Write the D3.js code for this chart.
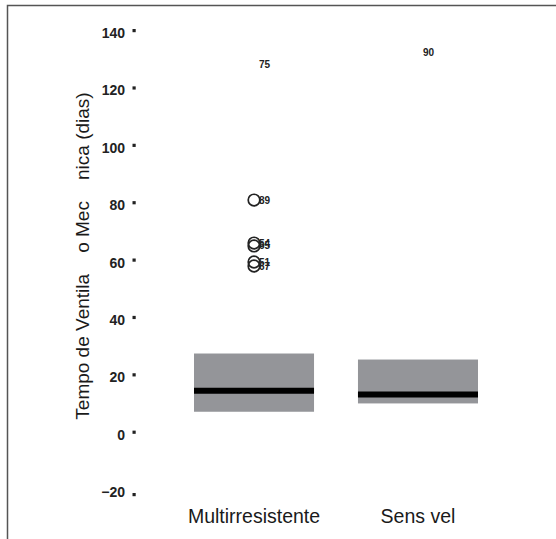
<!DOCTYPE html>
<html>
<head>
<meta charset="utf-8">
<script src="https://cdn.jsdelivr.net/npm/d3@7"></script>
<style>
html,body{margin:0;padding:0;background:#fff;}
svg{display:block;}
text{font-family:"Liberation Sans",Arial,Helvetica,sans-serif;}
</style>
</head>
<body>
<svg id="chart" width="556" height="539"></svg>
<script>
const categories = ["Multirresistente", "Sens vel"];
const q1 = [7.8, 10.7];
const medians = [15.1, 13.8];
const q3 = [28.1, 26.0];
const outlierValues = [
  [81.6, 66.6, 65.6, 60.0, 58.6],
  []
];
const outlierLabels = [
  ["89", "54", "65", "51", "67"],
  []
];
const extremeValues = [[128.7], [133.0]];
const extremeLabels = [["75"], ["90"]];
const yTicks = [-20, 0, 20, 40, 60, 80, 100, 120, 140];
const yTitle = "Tempo de Ventila    o Mec    nica (dias)";

const svg = d3.select("#chart");

// frame
svg.append("rect").attr("x", 7.5).attr("y", 5.5).attr("width", 600).attr("height", 600)
  .attr("fill", "none").attr("stroke", "#555").attr("stroke-width", 1.5);

const y = d3.scaleLinear().domain([-20, 140]).range([491.5, 32.5]);
const x = d3.scaleBand().domain(categories).range([194, 478]).paddingInner(0.268).paddingOuter(0);

// y axis: dots as ticks
const yAxis = d3.axisLeft(y).tickValues(yTicks).tickSize(0).tickPadding(0).tickFormat(d3.format("d"));
const ga = svg.append("g").attr("transform", "translate(134,0)").call(yAxis);
ga.select(".domain").remove();
ga.selectAll(".tick text").attr("x", -9).attr("dy", "0.36em")
  .attr("font-size", 14).attr("font-weight", "bold").attr("fill", "#222")
  .style("font-family", '"Liberation Sans",Arial,sans-serif');
ga.selectAll(".tick").append("rect")
  .attr("x", -1.5).attr("y", d => d === -20 ? 1 : -4).attr("width", 3.2).attr("height", 3.2)
  .attr("fill", "#222");

// y title
svg.append("text")
  .attr("transform", `translate(89,256) rotate(-90)`)
  .attr("text-anchor", "middle")
  .attr("font-size", 19).attr("fill", "#1a1a1a")
  .style("white-space", "pre")
  .attr("xml:space", "preserve")
  .text(yTitle);

// x labels
const gx = svg.append("g").attr("transform", "translate(0,516)")
  .call(d3.axisBottom(x).tickSize(0).tickPadding(0));
gx.select(".domain").remove();
gx.selectAll(".tick text").attr("font-size", 19.5).attr("fill", "#1a1a1a")
  .style("font-family", '"Liberation Sans",Arial,sans-serif').attr("dy", "0.36em").attr("y", 0);

const data = categories.map((c, i) => ({c, q1: q1[i], med: medians[i], q3: q3[i]}));

// boxes
svg.selectAll(".box").data(data).join("rect")
  .attr("x", d => x(d.c)).attr("width", x.bandwidth())
  .attr("y", d => y(d.q3)).attr("height", d => y(d.q1) - y(d.q3))
  .attr("fill", "#949599");

// medians
svg.selectAll(".med").data(data).join("line")
  .attr("x1", d => x(d.c)).attr("x2", d => x(d.c) + x.bandwidth())
  .attr("y1", d => y(d.med)).attr("y2", d => y(d.med))
  .attr("stroke", "#000").attr("stroke-width", 6);

// outliers
categories.forEach((c, i) => {
  const cx = x(c) + x.bandwidth() / 2;
  outlierValues[i].forEach((v, j) => {
    svg.append("circle").attr("cx", cx).attr("cy", y(v)).attr("r", 5.8)
      .attr("fill", "none").attr("stroke", "#222").attr("stroke-width", 1.7);
    svg.append("text").attr("x", cx + 5).attr("y", y(v)).attr("dy", "0.35em")
      .attr("font-size", 10).attr("font-weight", "bold").attr("fill", "#222")
      .text(outlierLabels[i][j]);
  });
  extremeValues[i].forEach((v, j) => {
    svg.append("text").attr("x", cx + 5).attr("y", y(v)).attr("dy", "0.35em")
      .attr("font-size", 10).attr("font-weight", "bold").attr("fill", "#222")
      .text(extremeLabels[i][j]);
  });
});
</script>
</body>
</html>
